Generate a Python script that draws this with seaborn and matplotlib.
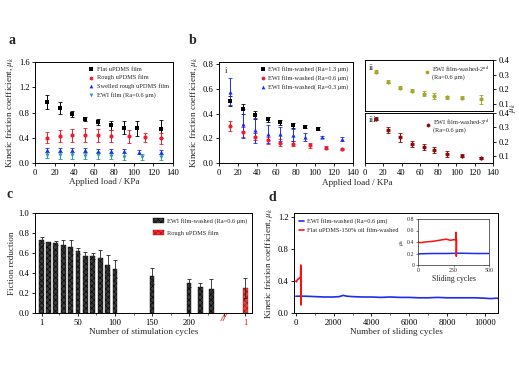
import numpy as np
import pandas as pd
import matplotlib
matplotlib.use("Agg")
import matplotlib.pyplot as plt
from matplotlib.patches import Patch
import seaborn as sns

# ---------------- data ----------------
# panel a
a_x_flat = [12, 25, 38, 51, 64, 77, 90, 103, 128]
a_flat = [0.97, 0.87, 0.78, 0.70, 0.65, 0.60, 0.56, 0.55, 0.54]
a_flat_err = [0.11, 0.09, 0.05, 0.03, 0.05, 0.07, 0.10, 0.12, 0.14]
a_x_rough = [12, 25, 38, 51, 64, 77, 95, 112, 128]
a_rough = [0.40, 0.43, 0.44, 0.44, 0.44, 0.43, 0.42, 0.41, 0.39]
a_rough_err = [0.09, 0.10, 0.10, 0.11, 0.10, 0.10, 0.10, 0.07, 0.09]
a_x_swell = [12, 25, 38, 51, 64, 77, 90, 106, 128]
a_swell = [0.20, 0.20, 0.20, 0.20, 0.19, 0.19, 0.19, 0.18, 0.18]
a_swell_err = [0.03, 0.03, 0.03, 0.03, 0.03, 0.03, 0.03, 0.03, 0.03]
a_x_ewi = [12, 25, 38, 51, 64, 77, 90, 109, 128]
a_ewi = [0.13, 0.12, 0.12, 0.11, 0.12, 0.11, 0.10, 0.09, 0.10]
a_ewi_err = [0.05, 0.05, 0.05, 0.05, 0.05, 0.05, 0.06, 0.05, 0.05]

# panel b-i
b_x_13 = [12, 25, 38, 51, 64, 77, 90, 103]
b_13 = [0.50, 0.44, 0.39, 0.355, 0.33, 0.305, 0.295, 0.28]
b_13_err = [0.04, 0.04, 0.03, 0.02, 0.02, 0.02, 0.01, 0.01]
b_x_06 = [12, 25, 38, 51, 64, 77, 95, 112, 128]
b_06 = [0.30, 0.255, 0.215, 0.185, 0.165, 0.155, 0.145, 0.125, 0.115]
b_06_err = [0.04, 0.04, 0.03, 0.03, 0.03, 0.02, 0.02, 0.01, 0.01]
b_x_03 = [12, 25, 38, 51, 64, 77, 90, 108, 128]
b_03 = [0.58, 0.32, 0.265, 0.235, 0.235, 0.23, 0.21, 0.21, 0.195]
b_03_err = [0.11, 0.12, 0.10, 0.07, 0.06, 0.05, 0.03, 0.01, 0.02]

# panel b-ii / b-iii
b_x_rep = [12, 25, 38, 51, 64, 76, 90, 106, 127]
b_2nd = [0.32, 0.25, 0.21, 0.19, 0.17, 0.155, 0.145, 0.14, 0.13]
b_2nd_err = [0.01, 0.01, 0.01, 0.01, 0.02, 0.02, 0.01, 0.01, 0.03]
b_3rd = [0.36, 0.28, 0.23, 0.185, 0.16, 0.14, 0.115, 0.10, 0.085]
b_3rd_err = [0.01, 0.02, 0.03, 0.02, 0.02, 0.02, 0.02, 0.01, 0.01]

# panel c
c_cycles = [1, 10, 20, 30, 40, 50, 60, 70, 80, 90, 100, 150, 200, 215, 230]
c_reduction = [0.73, 0.71, 0.70, 0.68, 0.66, 0.62, 0.57, 0.57, 0.55, 0.48, 0.44, 0.37, 0.30, 0.26, 0.24]
c_reduction_err = [0.03, 0.0, 0.02, 0.05, 0.07, 0.03, 0.04, 0.03, 0.08, 0.10, 0.09, 0.08, 0.04, 0.04, 0.10]
c_rough_pos = [276]
c_rough = [0.25]
c_rough_err = [0.10]
c_tick_pos = [1, 50, 100, 150, 200, 247, 276]
c_tick_labels = ["1", "50", "100", "150", "200", "//", "1"]

# panel d
d_x_blue = [0, 200, 500, 1000, 1500, 2000, 2300, 2500, 2700, 3000, 3500, 4000, 4500,
            5000, 5500, 6000, 6500, 7000, 7500, 8000, 8500, 9000, 9500, 10000, 10300, 10600, 10800]
d_blue = [0.21, 0.21, 0.21, 0.205, 0.20, 0.20, 0.205, 0.22, 0.21, 0.205, 0.20, 0.20, 0.195,
          0.20, 0.195, 0.195, 0.19, 0.19, 0.195, 0.19, 0.19, 0.19, 0.19, 0.185, 0.18, 0.185, 0.18]
d_x_red = [0, 30, 60, 100, 150, 200, 250, 262, 266, 270]
d_red = [0.40, 0.39, 0.41, 0.42, 0.43, 0.44, 0.45, 0.60, 0.10, 0.44]
in_x_blue = [0, 20, 100, 200, 300, 400, 500]
in_blue = [0.19, 0.195, 0.20, 0.20, 0.205, 0.20, 0.20]
in_x_red = [0, 10, 20, 50, 100, 150, 200, 210, 230, 250, 265, 268, 270, 272]
in_red = [0.40, 0.39, 0.39, 0.40, 0.41, 0.43, 0.45, 0.44, 0.43, 0.44, 0.44, 0.57, 0.15, 0.44]

# ---------------- style ----------------
sns.set_style("ticks")
plt.rcParams["font.family"] = ["Liberation Serif", "DejaVu Serif"]
plt.rcParams["mathtext.fontset"] = "stix"
plt.rcParams["axes.linewidth"] = 0.7
plt.rcParams["xtick.major.width"] = 0.6
plt.rcParams["ytick.major.width"] = 0.6
plt.rcParams["xtick.major.size"] = 2.5
plt.rcParams["ytick.major.size"] = 2.5
plt.rcParams["xtick.minor.size"] = 1.5
plt.rcParams["xtick.minor.width"] = 0.5
plt.rcParams["xtick.direction"] = "out"
plt.rcParams["ytick.direction"] = "out"
plt.rcParams["hatch.linewidth"] = 0.5

W, H = 519, 371
fig = plt.figure(figsize=(W / 100, H / 100), dpi=100)


def box(l, t, r, b):
    return [l / W, 1 - b / H, (r - l) / W, (b - t) / H]


FS_TICK = 6.2
FS_LAB = 6.6
FS_LEG = 4.6

BLACK = "#000000"
RED = "#ee1c2e"
BLUE = "#1c2cf0"
TEAL = "#2c9c9c"
OLIVE = "#a6a62a"
DRED = "#8b0a0a"


def frame(ax):
    for s in ax.spines.values():
        s.set_visible(True)
        s.set_color("black")
        s.set_linewidth(0.7)
    ax.tick_params(labelsize=FS_TICK, pad=1.5, colors="black")


def pts(ax, x, y, e, color, marker, label, s=9):
    ax.errorbar(x, y, yerr=e, fmt="none", ecolor=color, elinewidth=0.7,
                capsize=1.4, capthick=0.6, zorder=2)
    sns.scatterplot(x=x, y=y, color=color, marker=marker, s=s, linewidth=0,
                    ax=ax, label=label, zorder=3)


mu = r"$\mu_k$"

# ---------------- panel a ----------------
ax_a = fig.add_axes(box(35, 62, 173, 163))
pts(ax_a, a_x_flat, a_flat, a_flat_err, BLACK, "s", "Flat uPDMS film")
pts(ax_a, a_x_rough, a_rough, a_rough_err, RED, "o", "Rough uPDMS film")
pts(ax_a, a_x_swell, a_swell, a_swell_err, BLUE, "^", "Swelled rough uPDMS film")
pts(ax_a, a_x_ewi, a_ewi, a_ewi_err, TEAL, "v", "EWI film (Ra=0.6 \u03bcm)")
ax_a.set_xlim(0, 140)
ax_a.set_ylim(0, 1.6)
ax_a.set_xticks(range(0, 141, 20))
ax_a.set_yticks([0.0, 0.4, 0.8, 1.2, 1.6])
ax_a.yaxis.set_major_formatter(matplotlib.ticker.FormatStrFormatter("%.1f"))
frame(ax_a)
ax_a.set_xlabel("Applied load / KPa", fontsize=FS_LAB, labelpad=1)
ax_a.set_ylabel("Kinetic friction coefficient, " + mu, fontsize=FS_LAB, labelpad=2)
ax_a.legend(loc="upper right", fontsize=FS_LEG, frameon=False, handletextpad=0.2,
            borderaxespad=0.3, labelspacing=0.45, markerscale=0.9, handlelength=1.2)

# ---------------- panel b-i ----------------
ax_b = fig.add_axes(box(219, 62, 353, 163))
pts(ax_b, b_x_13, b_13, b_13_err, BLACK, "s", "EWI film-washed (Ra=1.3 \u03bcm)")
pts(ax_b, b_x_06, b_06, b_06_err, RED, "o", "EWI film-washed (Ra=0.6 \u03bcm)")
pts(ax_b, b_x_03, b_03, b_03_err, BLUE, "^", "EWI film-washed( Ra=0.3 \u03bcm)")
ax_b.set_xlim(0, 140)
ax_b.set_ylim(0, 0.82)
ax_b.set_xticks(range(0, 141, 20))
ax_b.set_yticks([0.0, 0.2, 0.4, 0.6, 0.8])
ax_b.yaxis.set_major_formatter(matplotlib.ticker.FormatStrFormatter("%.1f"))
frame(ax_b)
ax_b.set_xlabel("")
ax_b.set_ylabel("Kinetic friction coefficient, " + mu, fontsize=FS_LAB, labelpad=2)
ax_b.text(0.04, 0.95, "i", transform=ax_b.transAxes, fontsize=FS_LAB, va="top")
ax_b.legend(loc="upper right", fontsize=FS_LEG, frameon=False, handletextpad=0.2,
            borderaxespad=0.3, labelspacing=0.45, markerscale=0.9, handlelength=1.2)

# ---------------- panel b-ii ----------------
ax_b2 = fig.add_axes(box(365, 60, 493, 111))
pts(ax_b2, b_x_rep, b_2nd, b_2nd_err, OLIVE, "h",
    "EWI film-washed-2$^{\\mathrm{nd}}$\n(Ra=0.6 \u03bcm)", s=11)
ax_b2.set_xlim(0, 140)
ax_b2.set_ylim(0.05, 0.40)
ax_b2.set_xticks(range(0, 141, 20))
ax_b2.set_yticks([0.1, 0.2, 0.3, 0.4])
frame(ax_b2)
ax_b2.yaxis.tick_right()
ax_b2.tick_params(axis="x", labelbottom=False, length=0)
ax_b2.set_xlabel("")
ax_b2.set_ylabel("")
ax_b2.text(0.03, 0.93, "ii", transform=ax_b2.transAxes, fontsize=FS_LAB, va="top")
ax_b2.legend(loc="upper right", fontsize=FS_LEG, frameon=False, handletextpad=0.2,
             borderaxespad=0.2, markerscale=0.9, handlelength=1.0)

# ---------------- panel b-iii ----------------
ax_b3 = fig.add_axes(box(365, 113, 493, 163))
pts(ax_b3, b_x_rep, b_3rd, b_3rd_err, DRED, "h",
    "EWI film-washed-3$^{\\mathrm{rd}}$\n(Ra=0.6 \u03bcm)", s=11)
ax_b3.set_xlim(0, 140)
ax_b3.set_ylim(0.05, 0.40)
ax_b3.set_xticks(range(0, 141, 20))
ax_b3.set_yticks([0.1, 0.2, 0.3, 0.4])
frame(ax_b3)
ax_b3.yaxis.tick_right()
ax_b3.set_xlabel("")
ax_b3.set_ylabel("")
ax_b3.text(0.03, 0.93, "iii", transform=ax_b3.transAxes, fontsize=FS_LAB, va="top")
ax_b3.legend(loc="upper right", fontsize=FS_LEG, frameon=False, handletextpad=0.2,
             borderaxespad=0.2, markerscale=0.9, handlelength=1.0)
fig.text(513.5 / W, 1 - 108 / H, mu, fontsize=FS_LAB, rotation=90, va="center", ha="center")
fig.text(357 / W, 1 - 183 / H, "Applied load / KPa", fontsize=FS_LAB, va="center", ha="center")

# ---------------- panel c ----------------
ax_c = fig.add_axes(box(35, 213, 252, 313))
df_c = pd.DataFrame({
    "cycles": c_cycles + c_rough_pos,
    "reduction": c_reduction + c_rough,
    "group": ["EWI"] * len(c_cycles) + ["Rough"] * len(c_rough_pos),
})
sns.barplot(data=df_c, x="cycles", y="reduction", hue="group",
            palette={"EWI": "#3c3c3c", "Rough": "#f03030"}, native_scale=True,
            dodge=False, width=0.72, errorbar=None, legend=False, ax=ax_c)
for p in ax_c.patches:
    fc = p.get_facecolor()
    if fc[0] > 0.8:
        p.set_edgecolor("#b01010")
    else:
        p.set_edgecolor("#0a0a0a")
    p.set_hatch("xxxxxx")
    p.set_linewidth(0.3)
ax_c.errorbar(c_cycles, c_reduction, yerr=c_reduction_err, fmt="none", ecolor="#222222",
              elinewidth=0.6, capsize=1.4, capthick=0.6, zorder=3)
ax_c.errorbar(c_rough_pos, c_rough, yerr=c_rough_err, fmt="none", ecolor="#222222",
              elinewidth=0.6, capsize=1.4, capthick=0.6, zorder=3)
ax_c.set_xlim(-8, 285)
ax_c.set_ylim(0, 1.0)
ax_c.set_xticks(c_tick_pos)
ax_c.set_xticklabels(c_tick_labels)
ax_c.set_xticks([25, 75, 125, 175, 225], minor=True)
ax_c.set_yticks([0.0, 0.2, 0.4, 0.6, 0.8, 1.0])
ax_c.yaxis.set_major_formatter(matplotlib.ticker.FormatStrFormatter("%.1f"))
frame(ax_c)
ax_c.tick_params(axis="x", which="minor", bottom=True)
for lbl in ax_c.get_xticklabels()[-2:]:
    lbl.set_color("#e01010")
brk = ax_c.get_xticklabels()[-2]
brk.set_fontstyle("italic")
brk.set_fontweight("bold")
brk.set_fontsize(8)
brk.set_y(0.045)
ax_c.set_xlabel("Number of stimulation cycles", fontsize=FS_LAB, labelpad=1)
ax_c.set_ylabel("Fiction reduction", fontsize=FS_LAB, labelpad=2)
handles_c = [Patch(facecolor="#3c3c3c", edgecolor="#0a0a0a", hatch="xxxxxx", linewidth=0.3),
             Patch(facecolor="#f03030", edgecolor="#b01010", hatch="xxxxxx", linewidth=0.3)]
ax_c.legend(handles_c, ["EWI film-washed (Ra=0.6 \u03bcm)", "Rough uPDMS film"],
            loc="upper right", fontsize=FS_LEG, frameon=False, handletextpad=0.4,
            handlelength=1.8, handleheight=0.8, borderaxespad=0.4, labelspacing=0.9)

# ---------------- panel d ----------------
ax_d = fig.add_axes(box(294, 213, 498, 313))
sns.lineplot(x=d_x_blue, y=d_blue, color=BLUE, lw=1.2, ax=ax_d,
             label="EWI film-washed (Ra=0.6 \u03bcm)", estimator=None, sort=False)
sns.lineplot(x=d_x_red, y=d_red, color="#ff1010", lw=1.2, ax=ax_d,
             label="Flat uPDMS-150% oil film-washed", estimator=None, sort=False)
ax_d.set_xlim(-100, 10700)
ax_d.set_ylim(0, 1.25)
ax_d.set_xticks(range(0, 10001, 2000))
ax_d.set_xticks(range(1000, 10001, 2000), minor=True)
ax_d.set_yticks([0.0, 0.4, 0.8, 1.2])
ax_d.yaxis.set_major_formatter(matplotlib.ticker.FormatStrFormatter("%.1f"))
frame(ax_d)
ax_d.tick_params(axis="x", which="minor", bottom=True)
ax_d.set_xlabel("Number of sliding cycles", fontsize=FS_LAB, labelpad=1)
ax_d.set_ylabel("Kinetic friction coefficient, " + mu, fontsize=FS_LAB, labelpad=2)
ax_d.legend(loc="upper left", fontsize=FS_LEG, frameon=False, handletextpad=0.4,
            handlelength=0.8, borderaxespad=0.4, labelspacing=0.6)

# inset
ax_in = fig.add_axes(box(418, 219, 489, 265))
sns.lineplot(x=in_x_blue, y=in_blue, color=BLUE, lw=1.1, ax=ax_in,
             estimator=None, sort=False)
sns.lineplot(x=in_x_red, y=in_red, color="#ff1010", lw=1.1, ax=ax_in,
             estimator=None, sort=False)
ax_in.set_xlim(0, 500)
ax_in.set_ylim(0, 0.8)
ax_in.set_xticks([0, 250, 500])
ax_in.set_yticks([0, 0.2, 0.4, 0.6, 0.8])
ax_in.set_yticklabels(["0", "0.2", "0.4", "0.6", "0.8"])
for s in ax_in.spines.values():
    s.set_visible(True)
    s.set_linewidth(0.5)
ax_in.tick_params(labelsize=4.2, pad=1, length=1.5, width=0.4)
ax_in.set_xlabel("Sliding cycles", fontsize=5.6, labelpad=1)
ax_in.set_ylabel(mu, fontsize=4.6, labelpad=1)

# panel letters
for letter, (px, py) in {"a": (12, 40), "b": (193, 40), "c": (10, 195), "d": (272, 197)}.items():
    fig.text(px / W, 1 - py / H, letter, fontsize=10, fontweight="bold",
             ha="center", va="center")

fig.savefig("out.png", dpi=100)
